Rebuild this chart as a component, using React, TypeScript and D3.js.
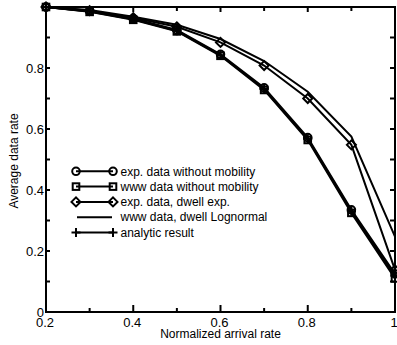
import React from "react";
import * as d3 from "d3";

const arrivalRates = [0.2, 0.3, 0.4, 0.5, 0.6, 0.7, 0.8, 0.9, 1.0];
const expNoMobility = [1.0, 0.986, 0.962, 0.925, 0.845, 0.735, 0.572, 0.335, 0.125];
const wwwNoMobility = [1.0, 0.984, 0.958, 0.92, 0.84, 0.728, 0.564, 0.325, 0.11];
const expDwellExp = [1.0, 0.988, 0.965, 0.935, 0.884, 0.808, 0.7, 0.548, 0.138];
const wwwDwellLognormal = [1.0, 0.99, 0.968, 0.942, 0.895, 0.823, 0.722, 0.575, 0.247];
const analytic = [1.0, 0.985, 0.96, 0.922, 0.842, 0.731, 0.568, 0.33, 0.118];

const xTicks = [0.2, 0.4, 0.6, 0.8, 1];
const xMinor = [0.3, 0.5, 0.7, 0.9];
const yTicks = [0, 0.2, 0.4, 0.6, 0.8];
const yMinor = [0.1, 0.3, 0.5, 0.7, 0.9];
const xTickLabels = ["0.2", "0.4", "0.6", "0.8", "1"];
const yTickLabels = ["0", "0.2", "0.4", "0.6", "0.8"];

const legendLabels = [
  "exp. data without mobility",
  "www data without mobility",
  "exp. data, dwell exp.",
  "www data, dwell Lognormal",
  "analytic result",
];
const legendMarkers = ["circle", "square", "diamond", "none", "plus"];

const W = 397;
const H = 345;
const L = 46, R = 395, T = 7, B = 312;
const FONT = "'Liberation Sans', Arial, Helvetica, sans-serif";

function Marker({ kind, x, y }: { kind: string; x: number; y: number }) {
  const s = { fill: "none", stroke: "#000", strokeWidth: 2 } as const;
  if (kind === "circle") return <circle cx={x} cy={y} r={3.8} {...s} />;
  if (kind === "square") return <rect x={x - 3.3} y={y - 3.3} width={6.6} height={6.6} {...s} />;
  if (kind === "diamond")
    return <path d={`M${x - 4.5},${y}L${x},${y - 4.5}L${x + 4.5},${y}L${x},${y + 4.5}Z`} {...s} />;
  if (kind === "plus")
    return <path d={`M${x - 4.5},${y}H${x + 4.5}M${x},${y - 4.5}V${y + 4.5}`} {...s} />;
  return null;
}

export default function App() {
  const x = d3.scaleLinear().domain([0.2, 1]).range([L, R]);
  const y = d3.scaleLinear().domain([0, 1]).range([B, T]);
  const line = (vals: number[]) =>
    d3.line<number>().x((_, i) => x(arrivalRates[i])).y((v) => y(v))(vals) || "";

  const series = [
    { vals: wwwDwellLognormal, marker: "none", w: 2 },
    { vals: expDwellExp, marker: "diamond", w: 2 },
    { vals: analytic, marker: "plus", w: 2 },
    { vals: wwwNoMobility, marker: "square", w: 2 },
    { vals: expNoMobility, marker: "circle", w: 2 },
  ];

  const legendY = (i: number) => 171.3 + i * 15.3;

  return (
    <svg width={W} height={H} style={{ position: "absolute", left: 0, top: 0, background: "#fff" }}>
      <rect x={0} y={0} width={W} height={H} fill="#fff" />
      {series.map((s, k) => (
        <g key={k}>
          <path d={line(s.vals)} fill="none" stroke="#000" strokeWidth={s.w} strokeLinejoin="miter" />
          {s.vals.map((v, i) => (
            <Marker key={i} kind={s.marker} x={x(arrivalRates[i])} y={y(v)} />
          ))}
        </g>
      ))}
      {/* frame */}
      <rect x={L} y={T} width={R - L} height={B - T} fill="none" stroke="#000" strokeWidth={2} />
      {/* ticks */}
      {xTicks.map((t, i) => (
        <g key={"xt" + i}>
          <line x1={x(t)} x2={x(t)} y1={B} y2={B - 7} stroke="#000" strokeWidth={2} />
          <line x1={x(t)} x2={x(t)} y1={T} y2={T + 5} stroke="#000" strokeWidth={2} />
        </g>
      ))}
      {xMinor.map((t, i) => (
        <g key={"xm" + i}>
          <line x1={x(t)} x2={x(t)} y1={B} y2={B - 4} stroke="#000" strokeWidth={2} />
          <line x1={x(t)} x2={x(t)} y1={T} y2={T + 4} stroke="#000" strokeWidth={2} />
        </g>
      ))}
      {[...yTicks, ...yMinor].map((t, i) => (
        <g key={"yt" + i}>
          <line x1={L} x2={L + 4} y1={y(t)} y2={y(t)} stroke="#000" strokeWidth={2} />
          <line x1={R} x2={R - 5} y1={y(t)} y2={y(t)} stroke="#000" strokeWidth={2} />
        </g>
      ))}
      {/* tick labels */}
      <g fontFamily={FONT} fontSize={13} fill="#000">
        {xTicks.map((t, i) => (
          <text key={"xl" + i} x={x(t) - 1} y={327} textAnchor="middle">
            {xTickLabels[i]}
          </text>
        ))}
        {yTicks.map((t, i) => (
          <text key={"yl" + i} x={44} y={y(t) + 4.6} textAnchor="end">
            {yTickLabels[i]}
          </text>
        ))}
      </g>
      {/* axis titles */}
      <text x={(L + R) / 2} y={338} textAnchor="middle" fontFamily={FONT} fontSize={12}>
        Normalized arrival rate
      </text>
      <text
        transform={`translate(18,${161}) rotate(-90)`}
        textAnchor="middle"
        fontFamily={FONT}
        fontSize={12}
      >
        Average data rate
      </text>
      {/* legend */}
      {legendLabels.map((lab, i) => {
        const ly = legendY(i);
        const x1 = legendMarkers[i] === "none" ? 77 : 76;
        const x2 = legendMarkers[i] === "none" ? 112 : 113;
        return (
          <g key={"lg" + i}>
            <line x1={x1} x2={x2} y1={ly} y2={ly} stroke="#000" strokeWidth={2} />
            <Marker kind={legendMarkers[i]} x={x1} y={ly} />
            <Marker kind={legendMarkers[i]} x={x2} y={ly} />
            <text x={120.5} y={ly + 4.2} fontFamily={FONT} fontSize={12}>
              {lab}
            </text>
          </g>
        );
      })}
    </svg>
  );
}
